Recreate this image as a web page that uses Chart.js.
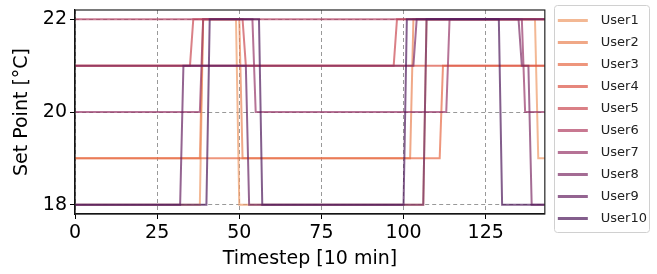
<!DOCTYPE html>
<html lang="en">
<head>
  <meta charset="UTF-8">
  <title>Set points per user</title>
  <script src="https://cdn.jsdelivr.net/npm/chart.js"></script>
  <style>
    body { margin: 0; background: #fff; }
  </style>
</head>
<body>
  <canvas id="myChart" width="657" height="274"></canvas>

  <script>
    // breakpoints [timestep, set point]
    const user1 = [[0,18],[38,18],[39,22],[49,22],[50,18],[106,18],[107,22],[140,22],[141,19],[143,19]];
    const user2 = [[0,19],[38,19],[39,22],[50,22],[51,19],[102,19],[103,22],[143,22]];
    const user3 = [[0,19],[111,19],[112,21],[143,21]];
    const user4 = [[0,21],[143,21]];
    const user5 = [[0,21],[35,21],[36,22],[51,22],[52,21],[97,21],[98,22],[143,22]];
    const user6 = [[0,22],[143,22]];
    const user7 = [[0,20],[38,20],[39,22],[54,22],[55,20],[113,20],[114,22],[136,22],[137,20],[143,20]];
    const user8 = [[0,21],[103,21],[104,22],[135,22],[136,21],[138,21],[139,18],[143,18]];
    const user9 = [[0,18],[32,18],[33,21],[52,21],[53,18],[106,18],[107,22],[143,22]];
    const user10 = [[0,18],[40,18],[41,22],[56,22],[57,18],[100,18],[101,22],[129,22],[130,18],[143,18]];

    const userNames = ['User1','User2','User3','User4','User5','User6','User7','User8','User9','User10'];
    const userData = [user1, user2, user3, user4, user5, user6, user7, user8, user9, user10];
    const userColors = [
      'rgba(238,154,102,0.7)', 'rgba(234,131,84,0.7)', 'rgba(231,105,69,0.7)',
      'rgba(219,84,69,0.7)', 'rgba(202,74,83,0.7)', 'rgba(176,62,98,0.7)',
      'rgba(151,55,105,0.7)', 'rgba(126,45,102,0.7)', 'rgba(102,34,98,0.7)',
      'rgba(79,26,91,0.7)'
    ];
    const xTicks = [0, 25, 50, 75, 100, 125];
    const yTicks = [18, 20, 22];

    const fontFamily = '"DejaVu Sans", sans-serif';

    // box around the plot and a frame around the legend entries
    const frame = {
      id: 'frame',
      afterLayout(chart) {
        // nudge legend entries a bit away from the plot
        chart.legend.left += 4;
        chart.legend.right += 4;
      },
      afterDatasetsDraw(chart) {
        const a = chart.chartArea, c = chart.ctx;
        c.save();
        c.strokeStyle = '#222';
        c.lineWidth = 1.2;
        c.strokeRect(a.left, a.top, a.right - a.left, a.bottom - a.top);
        c.restore();
      },
      afterDraw(chart) {
        const hb = chart.legend.legendHitBoxes, c = chart.ctx;
        if (!hb || !hb.length) return;
        const first = hb[0], last = hb[hb.length - 1];
        const x0 = first.left - 4;
        const y0 = first.top + first.height / 2 - 16;
        const y1 = last.top + last.height / 2 + 13;
        c.save();
        c.strokeStyle = '#d0d0d0';
        c.lineWidth = 1;
        c.beginPath();
        c.roundRect(Math.round(x0) + 0.5, Math.round(y0) + 0.5, 95, Math.round(y1 - y0), 3);
        c.stroke();
        c.restore();
      }
    };

    const ctx = document.getElementById('myChart').getContext('2d');
    new Chart(ctx, {
      type: 'line',
      data: {
        datasets: userData.map((d, i) => ({
          label: userNames[i],
          data: d.map(p => ({ x: p[0], y: p[1] })),
          borderColor: userColors[i],
          backgroundColor: userColors[i],
          borderWidth: 2,
          pointRadius: 0,
          tension: 0,
          order: userData.length - 1 - i   // later users drawn on top
        }))
      },
      options: {
        responsive: false,
        animation: false,
        layout: { padding: { top: 5, right: 4, left: 0, bottom: 0 } },
        plugins: {
          tooltip: { enabled: false },
          legend: {
            position: 'right',
            align: 'start',
            labels: {
              boxWidth: 30,
              boxHeight: 3,
              padding: 9,
              color: '#222',
              font: { family: fontFamily, size: 13 },
              sort: (a, b) => a.datasetIndex - b.datasetIndex,
              generateLabels: chart => Chart.defaults.plugins.legend.labels.generateLabels(chart)
                .map(item => Object.assign(item, { text: '\u2002' + item.text, lineWidth: 0 }))
            }
          }
        },
        scales: {
          x: {
            type: 'linear',
            min: 0,
            max: 143,
            afterBuildTicks: axis => { axis.ticks = xTicks.map(v => ({ value: v })); },
            afterFit: axis => { axis.height = 60; },
            grid: { color: '#999', tickColor: '#000', tickLength: 5, tickBorderDash: [] },
            border: { color: '#000', width: 1.2, dash: [4, 3] },
            ticks: { color: '#000', padding: 3, maxRotation: 0, font: { family: fontFamily, size: 19 } },
            title: { display: true, text: 'Timestep [10 min]', color: '#000', padding: { top: 0 }, font: { family: fontFamily, size: 19 } }
          },
          y: {
            min: 17.8,
            max: 22.2,
            afterBuildTicks: axis => { axis.ticks = yTicks.map(v => ({ value: v })); },
            afterFit: axis => { axis.width = 75; axis.paddingTop = 10; },
            grid: { color: '#999', tickColor: '#000', tickLength: 5, tickBorderDash: [] },
            border: { color: '#000', width: 1.2, dash: [4, 3] },
            ticks: { color: '#000', padding: 3, font: { family: fontFamily, size: 19 } },
            title: { display: true, text: 'Set Point [°C]', color: '#000', padding: { top: 11, bottom: 0 }, font: { family: fontFamily, size: 19 } }
          }
        }
      },
      plugins: [frame]
    });
  </script>
</body>
</html>
